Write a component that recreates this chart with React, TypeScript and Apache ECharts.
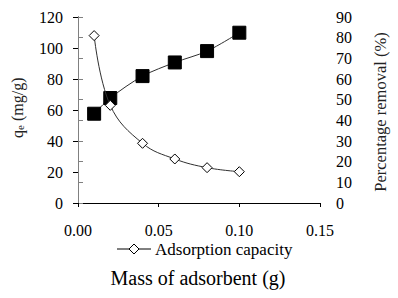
import React, { useEffect, useRef } from "react";
import * as echarts from "echarts";

const massValues = [0.01, 0.02, 0.04, 0.06, 0.08, 0.1];
const adsorptionCapacity = [108, 63, 38.5, 28.4, 22.8, 20.2];
const percentageRemoval = [43.2, 50.8, 61.4, 68, 73.5, 82.4];
const seriesNames = ["Adsorption capacity", "Percentage removal"];
const xTickValues = [0, 0.05, 0.1, 0.15];
const xTickLabels = ["0.00", "0.05", "0.10", "0.15"];
const leftTickValues = [0, 20, 40, 60, 80, 100, 120];
const rightTickValues = [0, 10, 20, 30, 40, 50, 60, 70, 80, 90];
const xTitle = "Mass of adsorbent (g)";
const rightTitle = "Percentage removal (%)";

const FONT = "Liberation Serif";
const TINY = 0.0002;

export default function App() {
  const ref = useRef<HTMLDivElement>(null);
  useEffect(() => {
    if (!ref.current) return;
    const chart = echarts.init(ref.current, null, { renderer: "svg" });
    const capData = massValues.map((m, i) => [m, adsorptionCapacity[i]]);
    const remData = massValues.map((m, i) => [m, percentageRemoval[i]]);
    chart.setOption({
      animation: false,
      backgroundColor: "#ffffff",
      textStyle: { fontFamily: FONT },
      grid: { left: 78, right: 78, top: 17, bottom: 95 },
      legend: { show: false },
      xAxis: [
        {
          type: "value",
          min: 0,
          max: 0.15,
          interval: 0.05,
          position: "bottom",
          axisLine: { show: true, lineStyle: { color: "#000", width: 1 } },
          axisTick: { show: true, inside: false, length: 4, lineStyle: { color: "#000" } },
          axisLabel: { show: false },
          splitLine: { show: false },
        },
        {
          type: "value",
          min: 0,
          max: 0.15,
          position: "top",
          axisLine: { show: true, lineStyle: { color: "#000", width: 1 } },
          axisTick: { show: false },
          axisLabel: { show: false },
          splitLine: { show: false },
        },
      ],
      yAxis: [
        {
          type: "value",
          min: 0,
          max: 120,
          interval: 20,
          position: "left",
          axisLine: { show: true, lineStyle: { color: "#000", width: 1 } },
          axisTick: { show: true, length: 5, lineStyle: { color: "#000" } },
          axisLabel: { show: false },
          splitLine: { show: false },
        },
        {
          type: "value",
          min: 0,
          max: 90,
          interval: 10,
          position: "right",
          axisLine: { show: true, lineStyle: { color: "#808080", width: 1 } },
          axisTick: { show: true, length: 5, lineStyle: { color: "#808080" } },
          axisLabel: { show: false },
          splitLine: { show: false },
        },
      ],
      series: [
        {
          name: seriesNames[1],
          type: "line",
          xAxisIndex: 0,
          yAxisIndex: 1,
          data: remData,
          smooth: 0.3,
          symbol: "rect",
          symbolSize: 13,
          lineStyle: { color: "#303030", width: 1 },
          itemStyle: { color: "#000", borderColor: "#000" },
          z: 2,
        },
        {
          name: seriesNames[0],
          type: "line",
          xAxisIndex: 0,
          yAxisIndex: 0,
          data: capData,
          smooth: 0.4,
          symbol: "diamond",
          symbolSize: 10,
          lineStyle: { color: "#303030", width: 1 },
          itemStyle: { color: "#fff", borderColor: "#000", borderWidth: 1 },
          z: 3,
        },
      ],
    });

    const px = (v: number) => chart.convertToPixel({ xAxisIndex: 0 }, v) as number;
    const pyL = (v: number) => chart.convertToPixel({ yAxisIndex: 0 }, v) as number;
    const pyR = (v: number) => chart.convertToPixel({ yAxisIndex: 1 }, v) as number;
    const xLeft = px(0);
    const xRight = px(0.15);
    const yBottom = pyL(0);

    const tickText = (x: number, y: number, text: string, align: string) => ({
      type: "text",
      x,
      y,
      rotation: TINY,
      style: { text, fontFamily: FONT, fontSize: 16, fill: "#000", align, verticalAlign: "middle" },
    });

    const graphics: any[] = [];
    xTickValues.forEach((v, i) => graphics.push(tickText(px(v), yBottom + 27, xTickLabels[i], "center")));
    leftTickValues.forEach((v) => graphics.push(tickText(xLeft - 15, pyL(v), String(v), "right")));
    rightTickValues.forEach((v) => graphics.push(tickText(xRight + 16, pyR(v), String(v), "left")));

    // legend
    const ly = 249;
    graphics.push({ type: "line", shape: { x1: 117, y1: ly, x2: 151, y2: ly }, style: { stroke: "#000", lineWidth: 1 } });
    graphics.push({
      type: "polygon",
      shape: { points: [[134, ly - 5], [139, ly], [134, ly + 5], [129, ly]] },
      style: { fill: "#fff", stroke: "#000", lineWidth: 1 },
    });
    graphics.push({
      type: "text",
      x: 155,
      y: ly,
      rotation: TINY,
      style: { text: seriesNames[0], fontFamily: FONT, fontSize: 17, fill: "#000", align: "left", verticalAlign: "middle" },
    });

    // titles
    graphics.push({
      type: "text",
      x: 198,
      y: 278,
      style: { text: xTitle, fontFamily: FONT, fontSize: 20, fill: "#000", align: "center", verticalAlign: "middle" },
    });
    graphics.push({
      type: "text",
      x: 380,
      y: 112,
      rotation: Math.PI / 2,
      style: { text: rightTitle, fontFamily: FONT, fontSize: 16.5, fill: "#222", align: "center", verticalAlign: "middle" },
    });
    graphics.push({
      type: "group",
      x: 17,
      y: 107,
      rotation: Math.PI / 2,
      children: [
        { type: "text", x: -31, y: 0, style: { text: "q", fontFamily: FONT, fontSize: 16, fill: "#222", align: "left", verticalAlign: "middle" } },
        { type: "text", x: -23, y: 3, style: { text: "e", fontFamily: FONT, fontSize: 11, fill: "#222", align: "left", verticalAlign: "middle" } },
        { type: "text", x: -18, y: 0, style: { text: " (mg/g)", fontFamily: FONT, fontSize: 16, fill: "#222", align: "left", verticalAlign: "middle" } },
      ],
    });

    chart.setOption({ graphic: graphics });
    return () => chart.dispose();
  }, []);
  return (
    <div
      ref={ref}
      style={{ position: "fixed", left: 0, top: 0, width: 398, height: 298 }}
    />
  );
}
